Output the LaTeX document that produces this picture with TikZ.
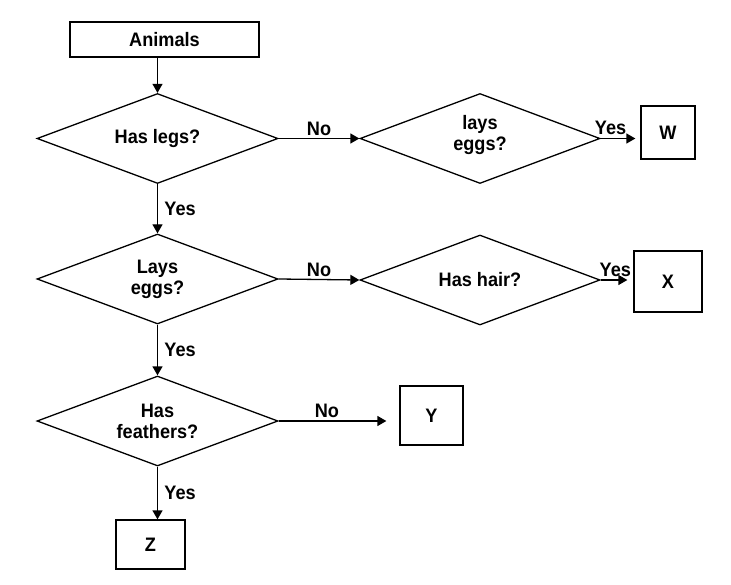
\documentclass[tikz,border=0pt]{standalone}
\usepackage{fontspec}
\setmainfont{Liberation Sans}[BoldFeatures={FakeStretch=0.93}]
\usetikzlibrary{shapes.geometric,arrows.meta}

\tikzset{
    base/.style={font=\fontsize{19.5}{21}\selectfont\bfseries, align=center, line width=1.3pt},
    box/.style={base, draw, rectangle, inner sep=0pt},
    decision/.style={base, draw, diamond, aspect=2.7, inner sep=0pt,
        minimum width=241pt, minimum height=90pt},
    arr/.style={line width=1.3pt, -{Triangle[length=9pt,width=10pt]}},
    lbl/.style={font=\fontsize{19.5}{21}\selectfont\bfseries}
}

\begin{document}
\begin{tikzpicture}[x=1pt,y=-1pt]
    \useasboundingbox (0,0) rectangle (731,585);

    % Start
    \node[box, minimum width=189pt, minimum height=35pt] (animals) at (164.5,39.5) {Animals};

    % Left column of questions
    \node[decision] (legs) at (157.5,138.5) {Has legs?};
    \node[decision] (eggs) at (157.5,279) {Lays\\eggs?};
    \node[decision] (feathers) at (157.5,421) {Has\\feathers?};

    % Right column of questions
    \node[decision, minimum width=240pt] (layseggs) at (480,138.5) {lays\\eggs?\\[-9pt]};
    \node[decision, minimum width=240pt] (hair) at (480,280) {Has hair?};

    % Outcomes
    \node[box, minimum width=54pt, minimum height=53pt] (w) at (668,132.5) {W};
    \node[box, minimum width=68pt, minimum height=61pt] (x) at (668,281.5) {X};
    \node[box, minimum width=63pt, minimum height=59pt] (y) at (431.5,415.5) {Y};
    \node[box, minimum width=69pt, minimum height=49pt] (z) at (150.5,544.5) {Z};

    % Connectors
    \draw[arr] (animals.south -| legs.north) -- (legs.north);
    \draw[arr] (legs.south) -- node[lbl, right=3pt] {Yes} (eggs.north);
    \draw[arr] (eggs.south) -- node[lbl, right=3pt] {Yes} (feathers.north);
    \draw[arr] (feathers.south) -- node[lbl, right=3pt] {Yes} (feathers.south |- z.north);

    \draw[arr] (legs.east) -- node[lbl, above=-1pt] {No} (layseggs.west);
    \draw[arr] (eggs.east) -- node[lbl, above=-1pt] {No} (hair.west);
    \draw[arr, shorten >=13pt] (feathers.east) -- node[lbl, above=-1pt, pos=0.4] {No} (feathers.east -| y.west);

    \draw[arr, shorten >=5pt] (layseggs.east) -- node[lbl, above=0pt, pos=0.25] {Yes} (layseggs.east -| w.west);
    \draw[arr, shorten >=6pt] (hair.east) -- node[lbl, above=-1pt, pos=0.45] {Yes} (hair.east -| x.west);
\end{tikzpicture}
\end{document}
